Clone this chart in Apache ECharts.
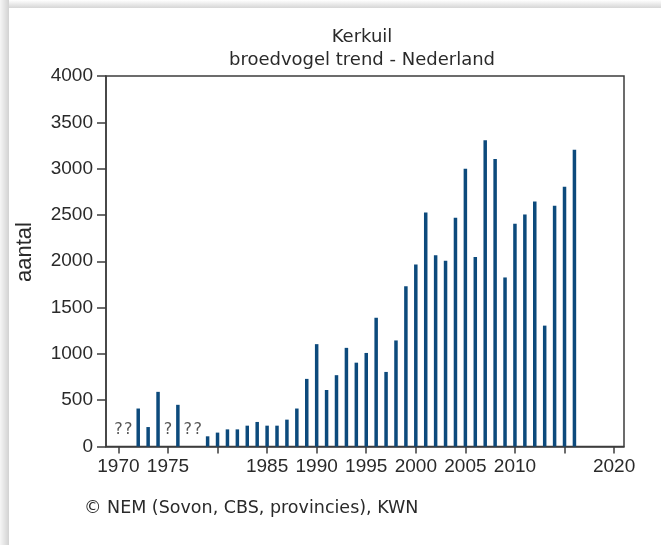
<!DOCTYPE html>
<html>
<head>
<meta charset="utf-8">
<script src="https://cdn.jsdelivr.net/npm/echarts@6/dist/echarts.min.js"></script>
<style>
  html, body { margin: 0; padding: 0; background: #fff; }
  #chart { width: 661px; height: 545px; }
</style>
</head>
<body>
<div id="chart"></div>
<script>
// Kerkuil (barn owl) breeding pairs in the Netherlands
const years = [1972, 1973, 1974, 1976, 1979, 1980, 1981, 1982, 1983, 1984, 1985,
  1986, 1987, 1988, 1989, 1990, 1991, 1992, 1993, 1994, 1995, 1996, 1997, 1998,
  1999, 2000, 2001, 2002, 2003, 2004, 2005, 2006, 2007, 2008, 2009, 2010, 2011,
  2012, 2013, 2014, 2015, 2016];
const counts = [410, 210, 590, 450, 110, 150, 185, 185, 225, 265, 225,
  225, 290, 410, 730, 1105, 610, 770, 1065, 905, 1010, 1390, 805, 1145,
  1730, 1965, 2525, 2065, 2005, 2470, 3000, 2045, 3305, 3105, 1825, 2405, 2505,
  2645, 1305, 2600, 2805, 3205];
// years without a known count, marked with a question mark
const unknownYears = [1970, 1971, 1975, 1977, 1978];
const xTicks = [1970, 1975, 1980, 1985, 1990, 1995, 2000, 2005, 2010, 2015, 2020];
const xLabels = [1970, 1975, 1985, 1990, 1995, 2000, 2005, 2010, 2020];

const titleText = 'Kerkuil';
const subtitleText = 'broedvogel trend - Nederland';
const yName = 'aantal';
const sourceText = '\u00A9 NEM (Sovon, CBS, provincies), KWN';

const ink = '#2a2a2a';
const frame = '#3c3c3c';
const barColor = '#0c4a7c';
const uiFont = '"DejaVu Sans", Verdana, sans-serif';
const numFont = '"Liberation Sans", Arial, sans-serif';

const chart = echarts.init(document.getElementById('chart'), null, { renderer: 'canvas' });

chart.setOption({
  animation: false,
  backgroundColor: '#fff',
  grid: {
    left: 106, right: 37, top: 76, bottom: 98.5,
    show: true, borderColor: frame, borderWidth: 1.5, containLabel: false
  },
  xAxis: {
    type: 'value',
    min: 1968.75,
    max: 2021,
    splitLine: { show: false },
    axisLine: { show: true, lineStyle: { color: frame, width: 1.5 } },
    axisTick: {
      show: true, length: 7, inside: false,
      customValues: xTicks,
      lineStyle: { color: frame, width: 1.5 }
    },
    axisLabel: {
      customValues: xLabels,
      margin: 11,
      color: ink,
      fontFamily: numFont,
      fontSize: 19,
      formatter: v => String(v)
    }
  },
  yAxis: {
    type: 'value',
    min: 0, max: 4000, interval: 500,
    splitLine: { show: false },
    axisLine: { show: true, lineStyle: { color: frame, width: 1.5 } },
    axisTick: { show: true, length: 9, lineStyle: { color: frame, width: 1.5 } },
    axisLabel: {
      margin: 13, color: ink, fontFamily: numFont, fontSize: 19,
      formatter: v => String(v)
    }
  },
  series: [
    {
      type: 'bar',
      data: years.map((y, i) => [y, counts[i]]),
      barWidth: 3.5,
      itemStyle: { color: barColor },
      silent: true
    },
    {
      type: 'scatter',
      data: unknownYears.map(y => [y, 0]),
      symbolSize: 0,
      silent: true,
      label: {
        show: true,
        position: 'top',
        distance: 9,
        formatter: '?',
        color: ink,
        fontFamily: uiFont,
        fontSize: 16
      }
    }
  ],
  graphic: [
    // soft panel edge along the top and left side
    {
      type: 'rect', left: 0, top: 0, z: 100,
      shape: { width: 661, height: 8 },
      style: {
        fill: new echarts.graphic.LinearGradient(0, 0, 0, 1, [
          { offset: 0, color: '#ffffff' },
          { offset: 1, color: '#d6d6d6' }
        ])
      }
    },
    {
      type: 'rect', left: 0, top: 0, z: 101,
      shape: { width: 9, height: 545 },
      style: {
        fill: new echarts.graphic.LinearGradient(0, 0, 1, 0, [
          { offset: 0, color: '#f6f6f6' },
          { offset: 1, color: '#d2d2d2' }
        ])
      }
    },
    {
      type: 'text', x: 362, y: 37,
      style: {
        text: titleText, align: 'center', verticalAlign: 'middle',
        fill: ink, font: '18px ' + uiFont
      }
    },
    {
      type: 'text', x: 362, y: 60,
      style: {
        text: subtitleText, align: 'center', verticalAlign: 'middle',
        fill: ink, font: '18px ' + uiFont
      }
    },
    {
      type: 'text', x: 25, y: 252, rotation: Math.PI / 2,
      style: {
        text: yName, align: 'center', verticalAlign: 'middle',
        fill: ink, font: '22px ' + numFont
      }
    },
    {
      type: 'text', x: 84, y: 508,
      style: {
        text: sourceText, align: 'left', verticalAlign: 'middle',
        fill: ink, font: '17.5px ' + uiFont
      }
    }
  ]
});
</script>
</body>
</html>
